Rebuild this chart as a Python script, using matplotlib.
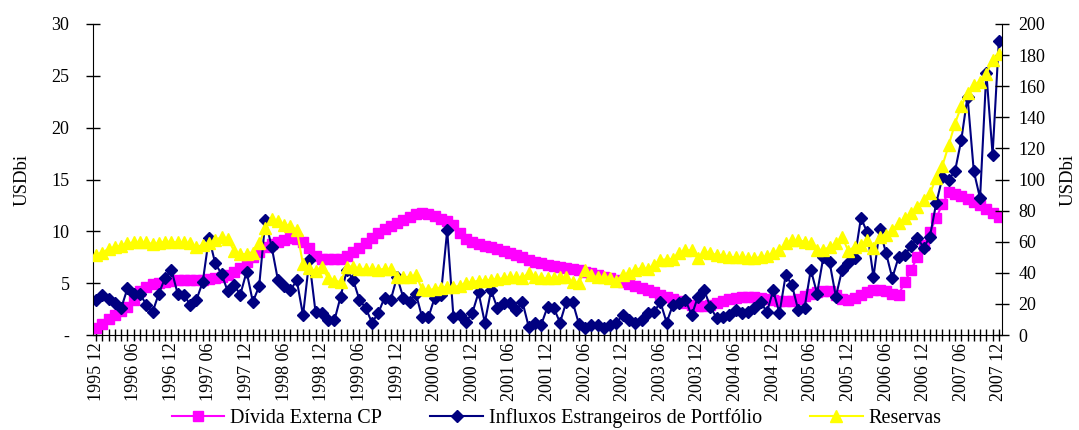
import matplotlib.pyplot as plt
import numpy as np

plt.rcParams['font.family'] = ['Liberation Serif', 'DejaVu Serif']

# monthly data, 1995 12 .. 2007 12
tick_labels = ['1995 12', '1996 06', '1996 12', '1997 06', '1997 12', '1998 06', '1998 12',
               '1999 06', '1999 12', '2000 06', '2000 12', '2001 06', '2001 12', '2002 06',
               '2002 12', '2003 06', '2003 12', '2004 06', '2004 12', '2005 06', '2005 12',
               '2006 06', '2006 12', '2007 06', '2007 12']

# Dívida Externa CP (left axis)
divida = [0.7, 1.1, 1.5, 1.9, 2.3, 2.7, 3.4, 4.2, 4.6, 4.9,
          5.0, 5.1, 5.2, 5.3, 5.3, 5.3, 5.3, 5.3, 5.4, 5.5,
          5.6, 5.8, 6.1, 6.5, 7.0, 7.5, 8.0, 8.5, 8.8, 9.0,
          9.2, 9.4, 9.3, 9.0, 8.4, 7.6, 7.3, 7.3, 7.3, 7.3,
          7.6, 8.0, 8.4, 8.9, 9.4, 9.8, 10.2, 10.5, 10.8, 11.1,
          11.4, 11.7, 11.8, 11.7, 11.5, 11.2, 11.0, 10.6, 9.8, 9.3,
          9.0, 8.8, 8.6, 8.5, 8.3, 8.1, 7.9, 7.7, 7.5, 7.2,
          7.0, 6.9, 6.8, 6.7, 6.6, 6.5, 6.4, 6.3, 6.1, 6.0,
          5.8, 5.6, 5.5, 5.3, 5.1, 4.9, 4.7, 4.5, 4.3, 4.1,
          3.9, 3.7, 3.5, 3.3, 3.1, 2.9, 2.8, 2.8, 2.9, 3.1,
          3.3, 3.5, 3.6, 3.7, 3.7, 3.7, 3.6, 3.5, 3.4, 3.3,
          3.3, 3.3, 3.5, 3.8, 4.0, 4.1, 4.2, 4.2, 3.9, 3.5,
          3.4, 3.6, 3.9, 4.1, 4.3, 4.3, 4.2, 4.0, 3.9, 5.1,
          6.3, 7.5, 8.7, 9.9, 11.3, 12.6, 13.8, 13.6, 13.4, 13.1,
          12.8, 12.5, 12.2, 11.8, 11.4]

# Influxos Estrangeiros de Portfólio (left axis)
influxos = [3.4, 3.9, 3.5, 3.1, 2.6, 4.5, 4.0, 4.0, 2.9, 2.2,
            4.0, 5.5, 6.3, 4.0, 3.9, 2.9, 3.4, 5.1, 9.4, 6.9,
            5.9, 4.2, 4.8, 3.9, 6.1, 3.2, 4.7, 11.1, 8.5, 5.3,
            4.7, 4.3, 5.3, 1.9, 7.2, 2.2, 2.1, 1.4, 1.4, 3.7,
            6.3, 5.3, 3.4, 2.6, 1.2, 2.1, 3.6, 3.4, 5.6, 3.6,
            3.2, 4.0, 1.7, 1.7, 3.6, 3.9, 10.1, 1.7, 1.9, 1.3,
            2.1, 4.1, 1.2, 4.3, 2.6, 3.1, 3.1, 2.4, 3.2, 0.8,
            1.2, 1.0, 2.7, 2.6, 1.2, 3.2, 3.2, 1.1, 0.7, 1.0,
            1.0, 0.7, 1.0, 1.2, 1.9, 1.4, 1.2, 1.4, 2.1, 2.2,
            3.2, 1.2, 2.9, 3.1, 3.4, 1.9, 3.7, 4.3, 2.7, 1.6,
            1.7, 1.9, 2.4, 2.1, 2.2, 2.6, 3.2, 2.2, 4.3, 2.1,
            5.8, 4.8, 2.4, 2.6, 6.3, 4.0, 7.5, 7.0, 3.7, 6.3,
            6.9, 7.4, 11.3, 9.9, 5.6, 10.2, 7.9, 5.5, 7.5, 7.7,
            8.6, 9.4, 8.4, 9.5, 12.7, 15.2, 15.0, 15.8, 18.8, 23.0,
            15.8, 13.2, 25.3, 17.4, 28.4]

# Reservas (right axis)
reservas = [51.5, 53, 55.5, 56.5, 57.5, 59, 59.5, 59.5, 59.5, 58.5,
            59, 60, 60, 59.5, 59.5, 59, 56.5, 58, 59, 61,
            63, 62, 54, 52, 52, 53, 59, 68.5, 74.5, 73,
            71, 70, 67.5, 45.5, 43, 41, 44, 36.5, 35, 34,
            44, 44, 42.5, 42.5, 42.5, 42, 42.5, 42.5, 37, 37,
            37.5, 38.5, 29.5, 29, 29.5, 30.5, 31, 31, 31.5, 33.5,
            34, 35, 35, 35.5, 36, 36.5, 37, 37.5, 36.5, 40,
            37, 36.5, 36.5, 36.5, 37, 37, 34, 33.5, 42, 38.5,
            37, 37, 36.5, 35, 38.5, 40, 42, 43, 42.5, 45,
            48.5, 48.5, 49, 53, 54.5, 54.5, 49.5, 53.4, 52.7, 51.4,
            51, 50, 50, 50, 49.5, 49.5, 50, 50.5, 52.7, 54.7,
            59, 61, 61, 60, 59, 54.7, 54.7, 56.6, 59, 63,
            54, 56.9, 57.9, 61, 56, 63, 64.3, 67.5, 72, 75,
            78.5, 82.3, 86.8, 91, 101, 109, 122, 136, 147, 155.6,
            160.8, 163, 168, 177, 180.5]

x = np.arange(len(divida))

fig = plt.figure(figsize=(10.79, 4.30), dpi=100)
ax = fig.add_axes([93 / 1079, 1 - 335 / 430, (1002 - 93) / 1079, (335 - 24) / 430])
ax2 = ax.twinx()

l1, = ax.plot(x, divida, color='#FF00FF', marker='s', ms=6.5, lw=1.5, label='Dívida Externa CP')
l2, = ax.plot(x, influxos, color='#000080', marker='D', ms=6.5, lw=1.5,
              label='Influxos Estrangeiros de Portfólio')
l3, = ax2.plot(x, reservas, color='#FFFF00', marker='^', ms=8.5, lw=1.5, label='Reservas')

ax.set_xlim(-0.5, len(x) - 0.5)
ax.set_ylim(0, 30)
ax2.set_ylim(0, 200)

ax.set_xticks(np.arange(0, len(x), 6))
ax.set_xticklabels(tick_labels, rotation=90, fontsize=13)
ax.set_xticks(x, minor=True)
ax.tick_params(axis='x', which='both', direction='inout', length=9, width=1, pad=1)

ax.set_yticks(np.arange(0, 31, 5))
ax.set_yticklabels(['-'] + [str(v) for v in range(5, 31, 5)], fontsize=13)
ax.tick_params(axis='y', direction='inout', length=10, width=1, pad=12)

ax2.set_yticks(np.arange(0, 201, 20))
ax2.set_yticklabels([str(v) for v in range(0, 201, 20)], fontsize=13)
ax2.tick_params(axis='y', direction='inout', length=10, width=1, pad=7)

for a in (ax, ax2):
    a.spines['top'].set_visible(False)
ax.spines['right'].set_visible(False)
ax2.spines['left'].set_visible(False)
ax2.spines['bottom'].set_visible(False)

fig.text(22 / 1079, 1 - 180 / 430, 'USDbi', rotation=90, ha='center', va='center', fontsize=13.5)
fig.text(1068 / 1079, 1 - 180 / 430, 'USDbi', rotation=90, ha='center', va='center', fontsize=13.5)

fig.legend(handles=[l1, l2, l3], loc='center', bbox_to_anchor=(0.516, 0.028), ncol=3,
           frameon=False, fontsize=14.5, handlelength=2.6, handletextpad=0.3,
           columnspacing=2.4, borderpad=0)

fig.savefig('out.png', dpi=100)
